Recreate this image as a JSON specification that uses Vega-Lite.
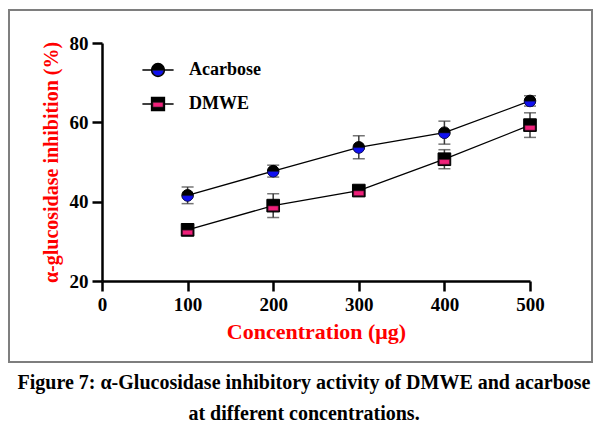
{
  "$schema": "https://vega.github.io/schema/vega-lite/v6.json",
  "width": 428,
  "height": 238,
  "autosize": {"type": "none"},
  "padding": {"left": 102, "top": 43, "right": 79, "bottom": 150},
  "background": "white",
  "title": {
    "text": ["Figure 7: α-Glucosidase inhibitory  activity of DMWE and acarbose", "at different concentrations."],
    "orient": "bottom",
    "anchor": "middle",
    "frame": "group",
    "dx": -12,
    "offset": 10,
    "font": "Liberation Serif",
    "fontWeight": "bold",
    "fontSize": 20,
    "color": "black",
    "lineHeight": 31
  },
  "config": {
    "view": {"stroke": null},
    "axis": {
      "grid": false,
      "labelFlush": false,
      "domainColor": "black",
      "domainWidth": 2.5,
      "tickColor": "black",
      "tickWidth": 2.5,
      "tickSize": 10,
      "labelFont": "Liberation Serif",
      "labelFontWeight": "bold",
      "labelFontSize": 19,
      "labelColor": "black",
      "titleFont": "Liberation Serif",
      "titleFontWeight": "bold",
      "titleColor": "#ff0000"
    },
    "legend": {
      "orient": "none",
      "padding": 0,
      "labelFont": "Liberation Serif",
      "labelFontWeight": "bold",
      "labelFontSize": 18,
      "labelColor": "black",
      "symbolSize": 169,
      "symbolOpacity": 1,
      "rowPadding": 14,
      "labelOffset": 22
    }
  },
  "data": {
    "values": [
      {"series": "Acarbose", "conc": 100, "value": 41.6, "lo": 39.5, "hi": 43.7},
      {"series": "Acarbose", "conc": 200, "value": 47.7, "lo": 46.2, "hi": 49.2},
      {"series": "Acarbose", "conc": 300, "value": 53.7, "lo": 50.8, "hi": 56.6},
      {"series": "Acarbose", "conc": 400, "value": 57.4, "lo": 54.5, "hi": 60.3},
      {"series": "Acarbose", "conc": 500, "value": 65.4, "lo": 64.1, "hi": 66.7},
      {"series": "DMWE", "conc": 100, "value": 32.9, "lo": 31.4, "hi": 34.4},
      {"series": "DMWE", "conc": 200, "value": 39.0, "lo": 36.0, "hi": 42.0},
      {"series": "DMWE", "conc": 300, "value": 42.8, "lo": 41.8, "hi": 43.8},
      {"series": "DMWE", "conc": 400, "value": 50.7, "lo": 48.3, "hi": 53.1},
      {"series": "DMWE", "conc": 500, "value": 59.3, "lo": 56.2, "hi": 62.4}
    ]
  },
  "encoding": {
    "x": {
      "field": "conc",
      "type": "quantitative",
      "scale": {"domain": [0, 500], "nice": false},
      "axis": {
        "values": [0, 100, 200, 300, 400, 500],
        "title": "Concentration (μg)",
        "titleFontSize": 22,
        "labelPadding": 4,
        "titlePadding": 7
      }
    },
    "y": {
      "field": "value",
      "type": "quantitative",
      "scale": {"domain": [20, 80], "nice": false, "zero": false},
      "axis": {
        "values": [20, 40, 60, 80],
        "title": "α-glucosidase inhibition (%)",
        "titleFontSize": 20,
        "labelPadding": 4,
        "titlePadding": 8
      }
    }
  },
  "layer": [
    {
      "mark": {"type": "rect", "fill": null, "stroke": "#7f7f7f", "strokeWidth": 1.5, "clip": false},
      "encoding": {
        "x": {"datum": -108.6},
        "x2": {"datum": 572.4},
        "y": {"datum": 88.3},
        "y2": {"datum": -0.4}
      }
    },
    {
      "mark": {"type": "line", "color": "black", "strokeWidth": 1.3},
      "encoding": {"detail": {"field": "series"}}
    },
    {
      "mark": {"type": "rule", "color": "#3a3a3a", "strokeWidth": 1.5},
      "encoding": {"y": {"field": "lo", "type": "quantitative"}, "y2": {"field": "hi"}}
    },
    {
      "mark": {"type": "tick", "orient": "horizontal", "color": "#3a3a3a", "size": 12, "thickness": 1.5},
      "encoding": {"y": {"field": "lo", "type": "quantitative"}}
    },
    {
      "mark": {"type": "tick", "orient": "horizontal", "color": "#3a3a3a", "size": 12, "thickness": 1.5},
      "encoding": {"y": {"field": "hi", "type": "quantitative"}}
    },
    {
      "transform": [{"filter": "datum.series === 'Acarbose'"}],
      "mark": {"type": "point", "shape": "circle", "filled": true, "color": "black", "stroke": "black", "strokeWidth": 1, "size": 133, "opacity": 1}
    },
    {
      "transform": [{"filter": "datum.series === 'Acarbose'"}],
      "mark": {"type": "point", "shape": "M-0.85,0.05A0.85,0.85,0,0,0,0.85,0.05Z", "filled": true, "fill": "#1010f0", "stroke": "#101060", "strokeWidth": 0.6, "size": 169, "opacity": 1}
    },
    {
      "transform": [{"filter": "datum.series === 'DMWE'"}],
      "mark": {"type": "point", "shape": "square", "filled": true, "color": "black", "stroke": "black", "strokeWidth": 1, "size": 160, "opacity": 1}
    },
    {
      "transform": [{"filter": "datum.series === 'DMWE'"}],
      "mark": {"type": "point", "shape": "M-0.78,0.05L0.78,0.05L0.78,0.78L-0.78,0.78Z", "filled": true, "fill": "#f0207a", "stroke": "#501030", "strokeWidth": 0.6, "size": 169, "opacity": 1}
    },
    {
      "transform": [{"filter": "datum.conc === 100"}],
      "mark": {"type": "point", "filled": true, "opacity": 0},
      "encoding": {
        "fill": {
          "field": "series",
          "type": "nominal",
          "scale": {"range": ["black", "black"]},
          "legend": {
            "title": null,
            "legendX": 47,
            "legendY": 18,
            "symbolSize": 169,
            "encode": {
              "symbols": {
                "update": {
                  "size": {"value": 169},
                  "stroke": {"value": "black"},
                  "strokeWidth": {"value": 1.3},
                  "opacity": {"value": 1},
                  "shape": {"signal": "datum.value === 'Acarbose' ? 'M-2.4,0L-1,0M1,0L2.4,0M-1,0A1,1,0,1,0,1,0A1,1,0,1,0,-1,0Z' : 'M-2.4,0L-1,0M1,0L2.4,0M-1,-1L1,-1L1,1L-1,1Z'"}
                }
              }
            }
          }
        }
      }
    },
    {
      "mark": {"type": "point", "filled": true, "opacity": 0},
      "encoding": {
        "fill": {
          "field": "series",
          "type": "nominal",
          "scale": {"range": ["#1010f0", "#f0207a"]},
          "legend": {
            "title": null,
            "legendX": 47,
            "legendY": 18,
            "symbolSize": 169,
            "labelOpacity": 0,
            "encode": {
              "symbols": {
                "update": {
                  "size": {"value": 169},
                  "stroke": {"value": "#202020"},
                  "strokeWidth": {"value": 0.6},
                  "opacity": {"value": 1},
                  "shape": {"signal": "datum.value === 'Acarbose' ? 'M-0.85,0.05A0.85,0.85,0,0,0,0.85,0.05Z' : 'M-0.78,0.05L0.78,0.05L0.78,0.78L-0.78,0.78Z'"}
                }
              }
            }
          }
        }
      }
    }
  ],
  "resolve": {"scale": {"fill": "independent"}, "legend": {"fill": "independent"}}
}
